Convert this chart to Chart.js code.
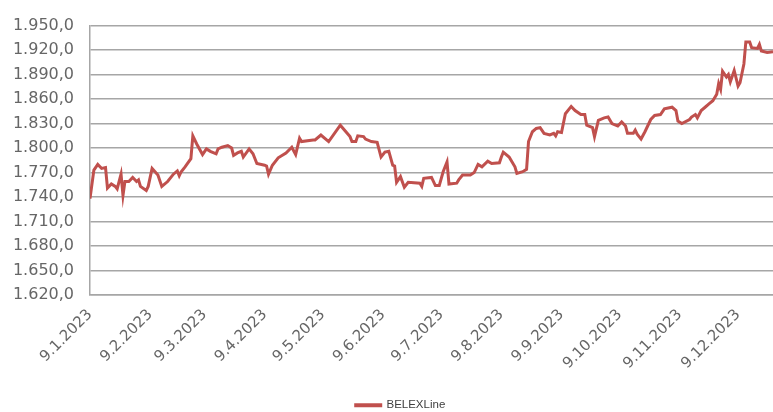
<!DOCTYPE html>
<html>
<head>
<meta charset="utf-8">
<script src="https://cdn.jsdelivr.net/npm/chart.js@4.4.1/dist/chart.umd.min.js"></script>
<style>
  html, body { margin: 0; padding: 0; background: #ffffff; }
  #wrap { width: 773px; height: 412px; }
</style>
</head>
<body>
<div id="wrap"><canvas id="chartBelex"></canvas></div>
<script>
const seriesName = 'BELEXLine';

// calendar days counted from 9.1.2023, and the index value on that day
const days = [
  0, 2, 4, 6, 8, 9, 11, 13, 14, 16,
  17, 18, 20, 22, 24, 25, 26, 29, 30, 32,
  35, 37, 40, 43, 45, 46, 47, 49, 52, 53,
  55, 58, 60, 62, 65, 66, 68, 71, 73, 74,
  76, 78, 79, 82, 84, 86, 90, 91, 92, 94,
  97, 101, 104, 106, 108, 109, 115, 116, 119, 123,
  129, 134, 135, 137, 138, 141, 142, 145, 148, 150,
  152, 154, 156, 157, 158, 160, 162, 164, 170, 171,
  172, 176, 178, 180, 182, 184, 185, 189, 190, 192,
  196, 198, 200, 202, 205, 207, 211, 212, 213, 216,
  219, 220, 223, 225, 226, 228, 230, 232, 234, 237,
  239, 240, 241, 243, 245, 248, 250, 253, 255, 256,
  259, 260, 262, 265, 267, 269, 272, 274, 276, 277,
  280, 281, 282, 284, 286, 289, 291, 294, 296, 298,
  300, 302, 303, 305, 309, 310, 312, 313, 315, 317,
  319, 321, 323, 324, 325, 326, 328, 329, 330, 332,
  334, 335, 337, 338, 340, 341, 344, 345, 346, 349,
  352
];
const values = [
  1738, 1773, 1780, 1775, 1776, 1751, 1756, 1753, 1750, 1768,
  1742, 1759, 1759, 1764, 1759, 1761, 1753, 1748, 1753, 1775,
  1767, 1753, 1759, 1768, 1772, 1766, 1771, 1777, 1787, 1815,
  1805, 1792, 1799, 1796, 1793, 1799, 1801, 1803, 1800, 1791,
  1794, 1796, 1789, 1799, 1793, 1781, 1779, 1778, 1768, 1779,
  1788, 1794, 1801, 1792, 1812, 1808, 1810, 1810, 1816, 1808,
  1828, 1814, 1808, 1808, 1815, 1814, 1811, 1808, 1807, 1789,
  1795, 1796, 1779, 1778, 1758, 1765, 1752, 1758, 1757, 1753,
  1763, 1764, 1754, 1754, 1771, 1783, 1756, 1757, 1761, 1767,
  1767, 1770, 1780, 1777, 1784, 1781, 1782, 1789, 1795, 1789,
  1777, 1769, 1771, 1774, 1808, 1820, 1824, 1825, 1818, 1816,
  1818, 1815, 1820, 1819, 1842, 1851, 1846, 1841, 1841, 1828,
  1825, 1814, 1834, 1837, 1838, 1830, 1827, 1832, 1827, 1818,
  1818, 1822, 1817, 1811, 1820, 1835, 1840, 1841, 1848, 1849,
  1850, 1846, 1833, 1830, 1835, 1838, 1841, 1837, 1846, 1850,
  1854, 1858, 1866, 1879, 1872, 1894, 1887, 1890, 1881, 1895,
  1876, 1880, 1903, 1930, 1930, 1923, 1922, 1927, 1919, 1917,
  1918
];

const tickLabels = [
  '9.1.2023', '9.2.2023', '9.3.2023', '9.4.2023', '9.5.2023', '9.6.2023',
  '9.7.2023', '9.8.2023', '9.9.2023', '9.10.2023', '9.11.2023', '9.12.2023'
];

const yMin = 1620;
const yMax = 1950;
const yStep = 30;

// turn "d.m.yyyy" into a day count from the first tick
const startDate = new Date(2023, 0, 9);
const tickDays = tickLabels.map(lbl => {
  const [d, m, y] = lbl.split('.').map(Number);
  return Math.round((new Date(y, m - 1, d) - startDate) / 86400000);
});

// 1950 -> "1.950,0"
function formatValue(v) {
  const [intPart, frac] = v.toFixed(1).split('.');
  return intPart.replace(/\B(?=(\d{3})+(?!\d))/g, '.') + ',' + frac;
}

const lineColor = '#C0504D';
const gridColor = '#a6a6a6';
const tickColor = '#666666';

// Excel puts the legend a little right of centre and lower than Chart.js does
const legendNudge = {
  id: 'legendNudge',
  afterLayout(chart) {
    const lg = chart.legend;
    if (!lg) return;
    lg.left += 14;
    lg.right += 14;
    lg.top += 9;
    lg.bottom += 9;
  }
};

const ctx = document.getElementById('chartBelex').getContext('2d');

new Chart(ctx, {
  type: 'line',
  data: {
    datasets: [{
      label: seriesName,
      data: days.map((d, i) => ({ x: d, y: values[i] })),
      borderColor: lineColor,
      backgroundColor: lineColor,
      borderWidth: 3,
      pointRadius: 0,
      tension: 0,
      fill: false
    }]
  },
  options: {
    responsive: true,
    maintainAspectRatio: false,
    animation: false,
    layout: {
      padding: { top: 22, left: 0, right: 0, bottom: 0 }
    },
    plugins: {
      legend: {
        display: true,
        position: 'bottom',
        labels: {
          boxWidth: 25,
          boxHeight: 1,
          padding: 4,
          color: '#404040',
          font: { family: '"Liberation Sans Narrow", "Liberation Sans", sans-serif', size: 11.5 }
        }
      },
      tooltip: { enabled: false }
    },
    scales: {
      x: {
        type: 'linear',
        min: 0,
        max: days[days.length - 1],
        afterBuildTicks: scale => {
          scale.ticks = tickDays.map(v => ({ value: v }));
        },
        afterFit: scale => {
          const legendH = scale.chart.legend ? scale.chart.legend.height : 26;
          scale.height = 412 - 295 - legendH;
        },
        grid: { display: false, drawTicks: false },
        border: { display: true, color: gridColor, width: 1.5 },
        ticks: {
          autoSkip: false,
          minRotation: 45,
          maxRotation: 45,
          padding: 11,
          color: tickColor,
          font: { family: '"DejaVu Sans", sans-serif', size: 15 },
          callback: (value, index) => tickLabels[index]
        }
      },
      y: {
        min: yMin,
        max: yMax,
        afterFit: scale => {
          scale.width = 90;
        },
        grid: { color: gridColor, lineWidth: 1.5, drawTicks: false },
        border: { display: true, color: gridColor, width: 1.5 },
        ticks: {
          stepSize: yStep,
          padding: 16,
          color: tickColor,
          font: { family: '"DejaVu Sans", sans-serif', size: 16 },
          callback: value => formatValue(value)
        }
      }
    }
  },
  plugins: [legendNudge]
});
</script>
</body>
</html>
